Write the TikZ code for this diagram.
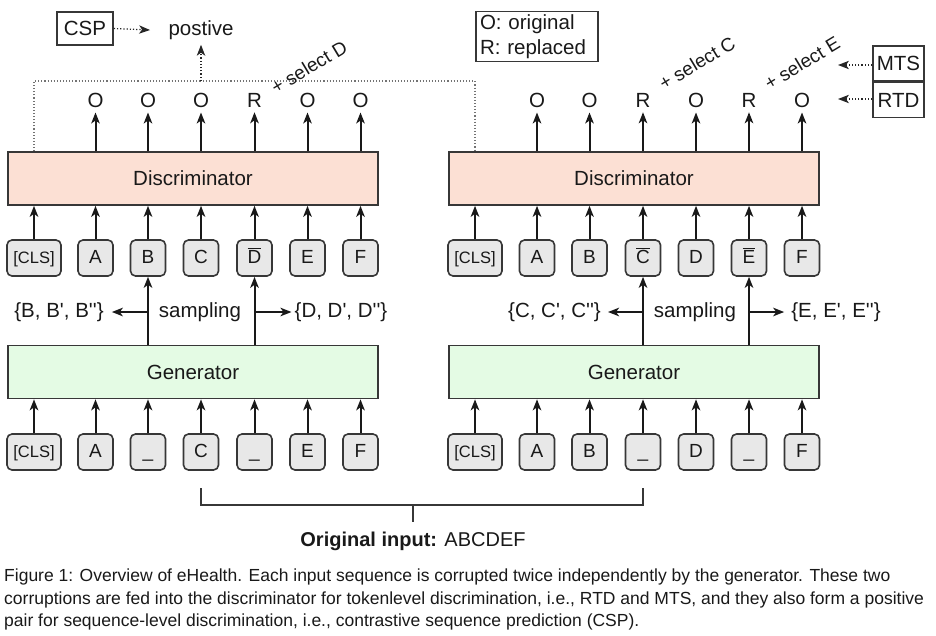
\documentclass[tikz,border=0pt]{standalone}
\usepackage{fontspec}
\setmainfont{Liberation Sans}[Ligatures=TeXOff]
\usetikzlibrary{arrows.meta,positioning,calc}
\definecolor{discfill}{RGB}{252,224,212}
\definecolor{genfill}{RGB}{228,251,228}
\definecolor{tokfill}{RGB}{232,232,232}
\definecolor{edge}{RGB}{55,55,55}
\newcommand{\barred}[1]{$\overline{\hbox{#1}}$}
\begin{document}
\begin{tikzpicture}[x=1pt,y=-1pt,
  every node/.style={font=\fontsize{20.5}{25}\selectfont, text=black!90},
  tok/.style={draw=edge, fill=tokfill, rounded corners=5pt, line width=1.6pt,
    minimum height=36pt, minimum width=35pt, inner sep=0pt,
    text height=14pt, text depth=4pt, font=\fontsize{19}{22}\selectfont},
  clsbox/.style={tok, minimum width=54pt, font=\fontsize{16.5}{20}\selectfont},
  bigbox/.style={draw=edge, line width=1.6pt, minimum width=370pt, minimum height=53pt, inner sep=0pt},
  disc/.style={bigbox, fill=discfill},
  gen/.style={bigbox, fill=genfill},
  arr/.style={-{Stealth[length=11pt,width=8.5pt,inset=3pt]}, line width=2pt, draw=black!90},
  darr/.style={-{Stealth[length=11pt,width=8.5pt,inset=3pt,line width=0pt]}, line width=1.2pt, dotted, draw=black!85},
  plain/.style={draw=edge, line width=1.6pt, inner sep=3pt},
  lbl/.style={inner sep=1pt},
  sel/.style={rotate=31, inner sep=0pt, font=\fontsize{19}{22}\selectfont},
  capt/.style={anchor=west, inner sep=0pt, font=\fontsize{17.5}{21}\selectfont}
]
\useasboundingbox (0,0) rectangle (936,635);

% ---------- Left block ----------
\node[disc] (dis1) at (193,178.5) {Discriminator};
\node[gen] (gen1) at (193,372) {Generator};

% discriminator inputs (left)
\node[clsbox] (a0) at (34,258) {[CLS]};
\node[tok] (a1) at (95.5,258) {A};
\node[tok] (a2) at (148,258) {B};
\node[tok] (a3) at (201,258) {C};
\node[tok] (a4) at (254.5,258) {\barred{D}};
\node[tok] (a5) at (307.5,258) {E};
\node[tok] (a6) at (360.5,258) {F};

% generator inputs (left)
\node[clsbox] (g0) at (34,452) {[CLS]};
\node[tok] (g1) at (95.5,452) {A};
\node[tok] (g2) at (148,452) {\_};
\node[tok] (g3) at (201,452) {C};
\node[tok] (g4) at (254.5,452) {\_};
\node[tok] (g5) at (307.5,452) {E};
\node[tok] (g6) at (360.5,452) {F};

% outputs (left)
\node[lbl] (o1) at (95.5,100) {O};
\node[lbl] (o2) at (148,100) {O};
\node[lbl] (o3) at (201,100) {O};
\node[lbl] (o4) at (254.5,100) {R};
\node[lbl] (o5) at (307.5,100) {O};
\node[lbl] (o6) at (360.5,100) {O};

\foreach \i in {1,...,6} {
  \draw[arr] (dis1.north -| o\i) -- ([yshift=-4pt]o\i.south);
}
\foreach \i in {0,...,6} {
  \draw[arr] (g\i.north) -- (g\i.north |- gen1.south);
  \draw[arr] (a\i.north) -- (a\i.north |- dis1.south);
}

% sampling (left)
\node[lbl] (samp1) at (200,312) {sampling};
\node[lbl] (setB) at (59,312) {\{B, B', B''\}};
\node[lbl] (setD) at (341,312) {\{D, D', D''\}};
\draw[arr] (gen1.north -| a2) -- (a2.south);
\draw[arr] (gen1.north -| a4) -- (a4.south);
\draw[arr] (a2 |- samp1) -- ([xshift=7pt]setB.east);
\draw[arr] (a4 |- samp1) -- ([xshift=-2pt]setD.west);

\node[sel] (selD) at (309,67) {+ select D};

% ---------- Right block ----------
\node[disc] (dis2) at (634,178.5) {Discriminator};
\node[gen] (gen2) at (634,372) {Generator};

\node[clsbox] (b0) at (475,258) {[CLS]};
\node[tok] (b1) at (537,258) {A};
\node[tok] (b2) at (589.5,258) {B};
\node[tok] (b3) at (643,258) {\barred{C}};
\node[tok] (b4) at (696,258) {D};
\node[tok] (b5) at (749,258) {\barred{E}};
\node[tok] (b6) at (802,258) {F};

\node[clsbox] (h0) at (475,452) {[CLS]};
\node[tok] (h1) at (537,452) {A};
\node[tok] (h2) at (589.5,452) {B};
\node[tok] (h3) at (643,452) {\_};
\node[tok] (h4) at (696,452) {D};
\node[tok] (h5) at (749,452) {\_};
\node[tok] (h6) at (802,452) {F};

\node[lbl] (p1) at (537,100) {O};
\node[lbl] (p2) at (589.5,100) {O};
\node[lbl] (p3) at (643,100) {R};
\node[lbl] (p4) at (696,100) {O};
\node[lbl] (p5) at (749,100) {R};
\node[lbl] (p6) at (802,100) {O};

\foreach \i in {1,...,6} {
  \draw[arr] (dis2.north -| p\i) -- ([yshift=-4pt]p\i.south);
}
\foreach \i in {0,...,6} {
  \draw[arr] (h\i.north) -- (h\i.north |- gen2.south);
  \draw[arr] (b\i.north) -- (b\i.north |- dis2.south);
}

\node[lbl] (samp2) at (695,312) {sampling};
\node[lbl] (setC) at (554.5,312) {\{C, C', C''\}};
\node[lbl] (setE) at (836,312) {\{E, E', E''\}};
\draw[arr] (gen2.north -| b3) -- (b3.south);
\draw[arr] (gen2.north -| b5) -- (b5.south);
\draw[arr] (b3 |- samp2) -- ([xshift=6pt]setC.east);
\draw[arr] (b5 |- samp2) -- ([xshift=-6pt]setE.west);

\node[sel] (selC) at (697,63) {+ select C};
\node[sel] (selE) at (802,63) {+ select E};

% ---------- Top annotations ----------
\node[plain, minimum width=56pt, minimum height=33pt, inner sep=0pt] (csp) at (85,28.5) {CSP};
\node[lbl] (pos) at (201,30) {postive};
\coordinate (cspend) at (150,30);
\draw[darr] (csp.east) -- (cspend);

\coordinate (jn) at (201,81);
\draw[dotted, line width=1.1pt, draw=black!55] (dis1.north -| a0) |- (jn) -| (dis2.north -| b0);
\draw[darr] (jn) -- ([yshift=-4pt]pos.south);

\node[plain, align=left, inner xsep=4pt, inner ysep=3pt, text width=114pt] (legend) at (537,36.5)
  {O: original\\R: replaced};

\node[plain, minimum width=51pt, minimum height=35pt, inner sep=0pt] (mts) at (898.5,63.5) {MTS};
\node[plain, minimum width=51pt, minimum height=35pt, inner sep=0pt, anchor=north] (rtd) at (mts.south) {RTD};
\coordinate (mtsend) at (838,65);
\coordinate (rtdend) at (838,99);
\draw[darr] (mts.west |- mtsend) -- (mtsend);
\draw[darr] (rtd.west |- rtdend) -- (rtdend);

% ---------- Bracket ----------
\coordinate (br1) at (201,488);
\coordinate (br2) at (643,488);
\coordinate (brm) at (413,505);
\coordinate (brt) at (413,522);
\draw[line width=1.8pt, draw=edge] (br1) |- (brm) -| (br2);
\draw[line width=1.8pt, draw=edge] (brm) -- (brt);
\node[lbl, font=\fontsize{20}{24}\selectfont] (orig) at (413,541) {\textbf{Original input:} ABCDEF};

% ---------- Caption ----------
\node[capt] (cap1) at (4,577) {Figure 1: Overview of eHealth. Each input sequence is corrupted twice independently by the generator. These two};
\node[capt] (cap2) at (4,600) {corruptions are fed into the discriminator for tokenlevel discrimination, i.e., RTD and MTS, and they also form a positive};
\node[capt] (cap3) at (4,622) {pair for sequence-level discrimination, i.e., contrastive sequence prediction (CSP).};
\end{tikzpicture}
\end{document}
